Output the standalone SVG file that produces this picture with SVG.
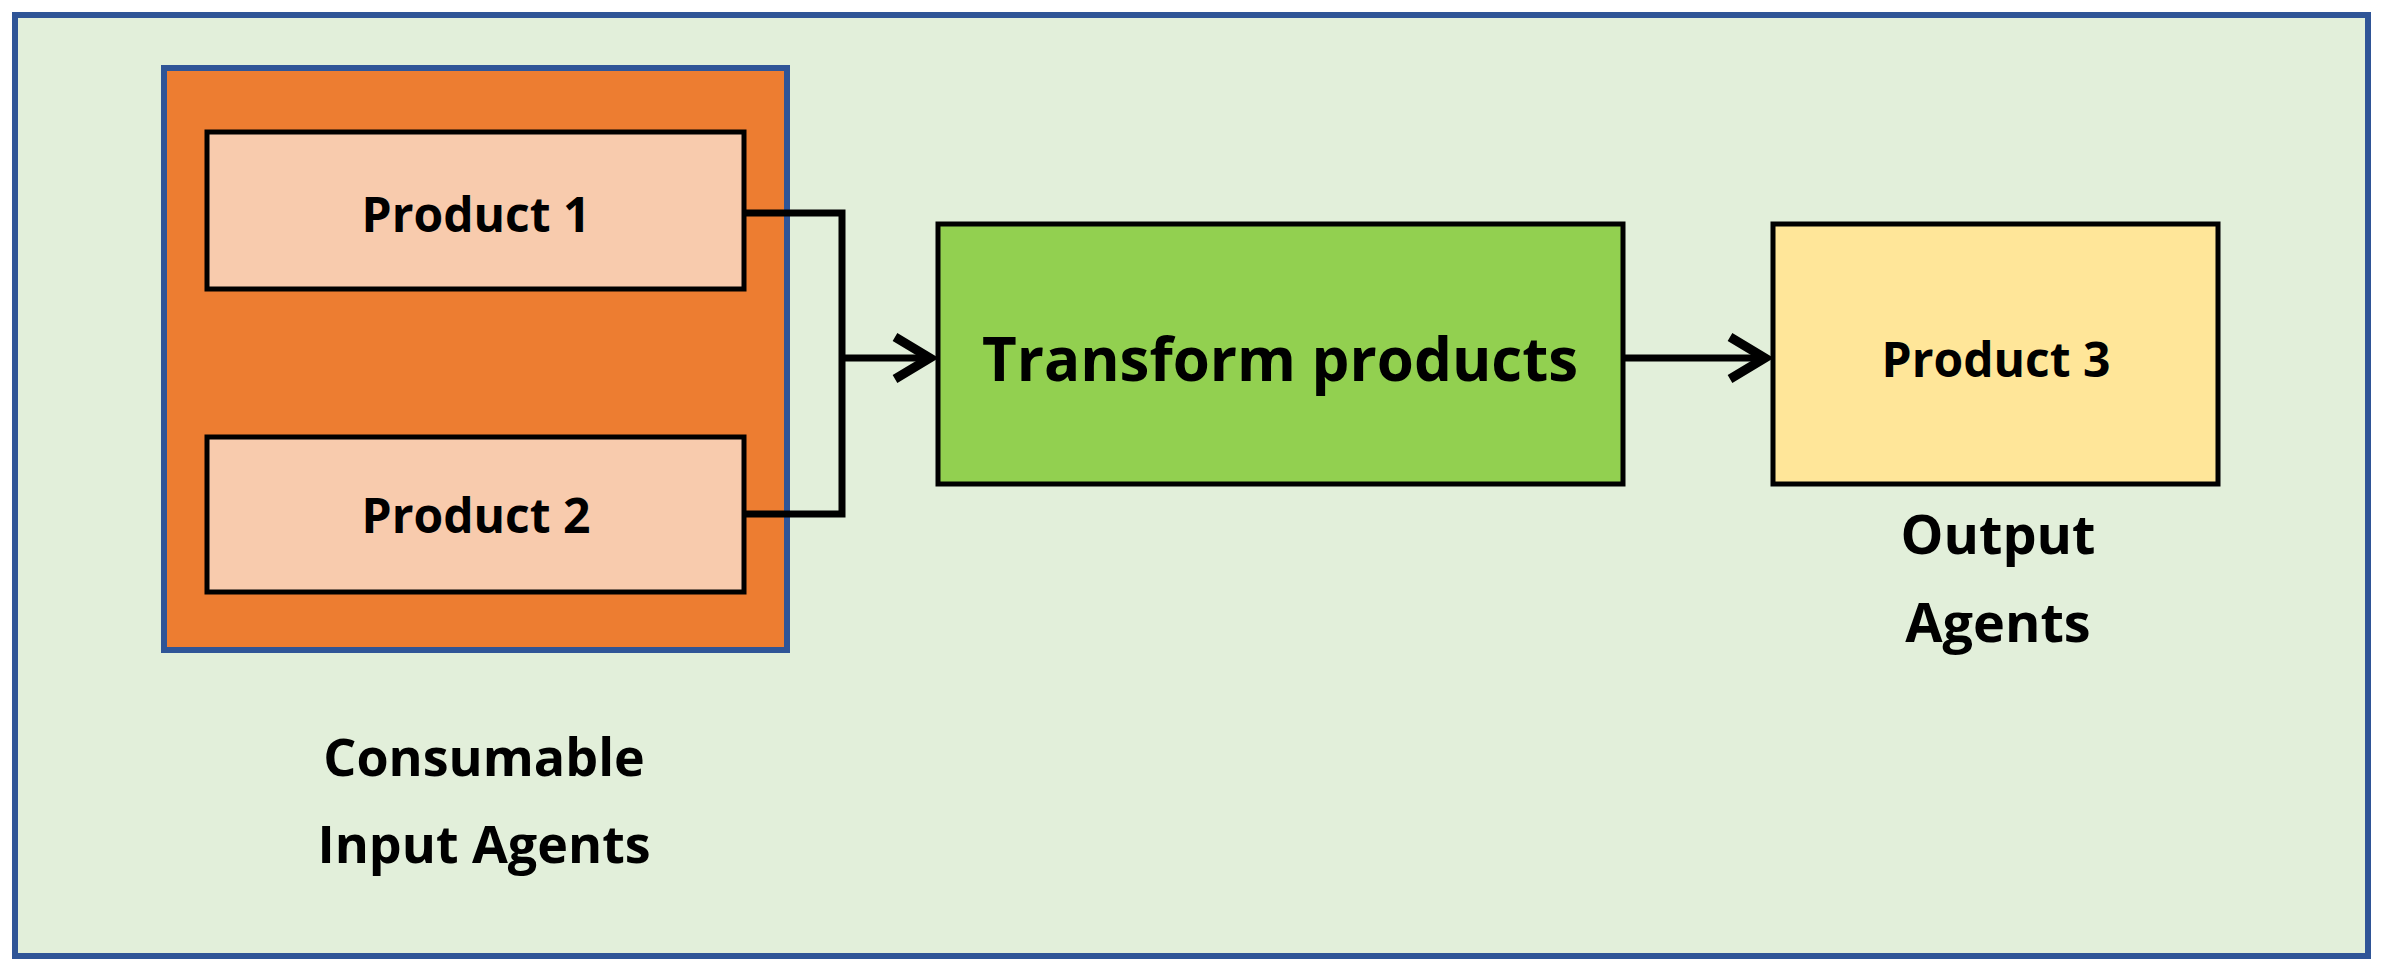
<svg xmlns="http://www.w3.org/2000/svg" width="2387" height="975" viewBox="0 0 2387 975">
<style>
.t{font-family:"Open Sans","Liberation Sans",sans-serif;font-weight:bold;fill:#000;text-anchor:middle;dominant-baseline:central}
.b{stroke:#000;stroke-width:5}
.c{fill:none;stroke:#000;stroke-width:7}
</style>
<defs><marker id="a" markerWidth="8" markerHeight="8" refX="6" refY="4" orient="auto" markerUnits="strokeWidth"><path d="M1,1 L6,4 L1,7" fill="none" stroke="#000" stroke-width="1.3"/></marker></defs>
<rect x="15" y="15" width="2353" height="941" fill="#E2EFDA" stroke="#2F5597" stroke-width="6"/>
<g id="input-agents"><rect x="164" y="68" width="623" height="582" fill="#ED7D31" stroke="#2F5597" stroke-width="6"/>
<text class="t" x="484" y="755" font-size="52">Consumable</text><text class="t" x="484" y="842" font-size="52">Input Agents</text></g>
<g id="p1"><rect class="b" x="207" y="132" width="537" height="157" fill="#F8CBAD"/><text class="t" x="476" y="213" font-size="48">Product 1</text></g>
<g id="p2"><rect class="b" x="207" y="437" width="537" height="155" fill="#F8CBAD"/><text class="t" x="476" y="514" font-size="48">Product 2</text></g>
<g id="transform"><rect class="b" x="938" y="224" width="685" height="260" fill="#92D050"/><text class="t" x="1280" y="358" font-size="60">Transform products</text></g>
<g id="p3"><rect class="b" x="1773" y="224" width="445" height="260" fill="#FFE699"/><text class="t" x="1996" y="358" font-size="48">Product 3</text>
<text class="t" x="1998" y="533" font-size="54">Output</text><text class="t" x="1998" y="621" font-size="54">Agents</text></g>
<g id="connectors">
<path class="c" d="M744,213 H842 V514 H744"/>
<path class="c" d="M842,358 H930" marker-end="url(#a)"/>
<path class="c" d="M1623,358 H1765" marker-end="url(#a)"/>
</g>
</svg>
